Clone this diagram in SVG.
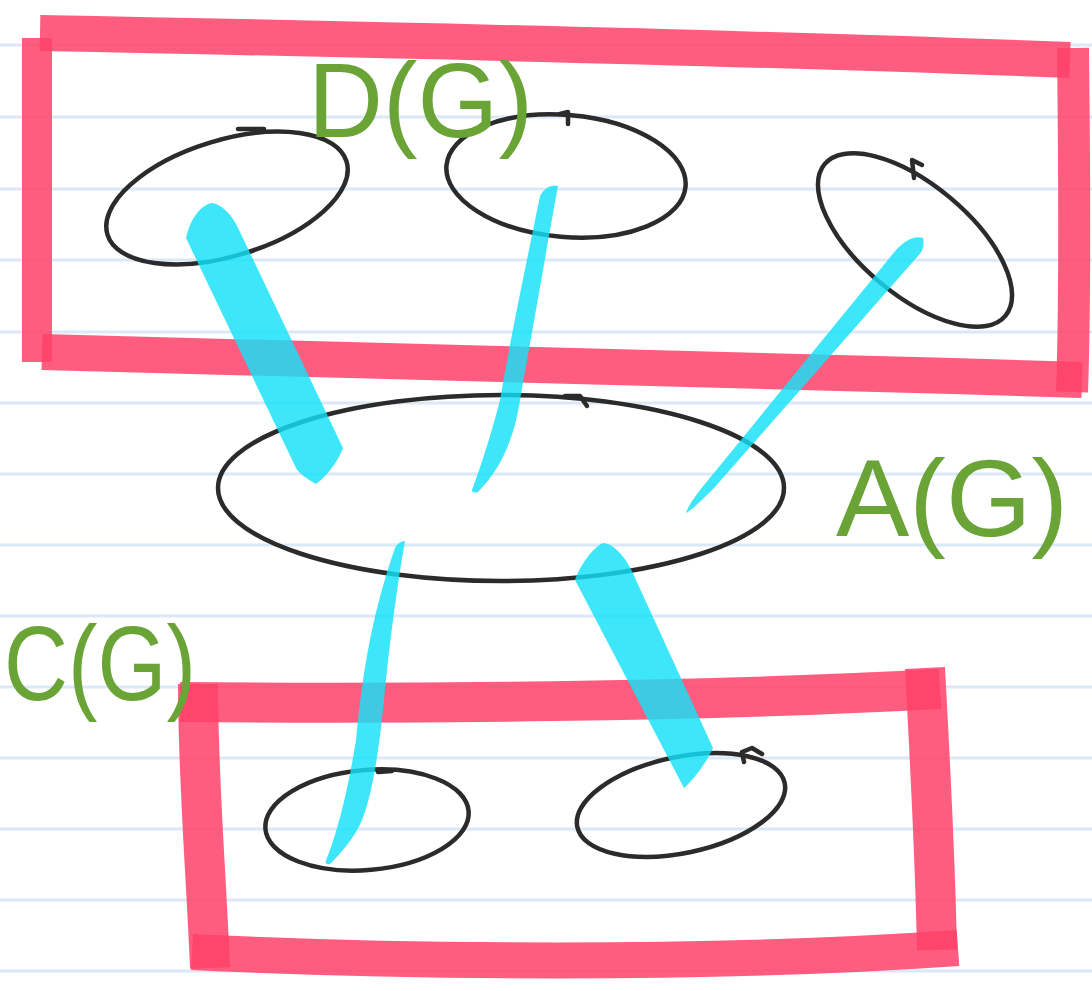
<svg xmlns="http://www.w3.org/2000/svg" width="1092" height="991" viewBox="0 0 1092 991">
<style>
.rule{stroke:#dce7f7;stroke-width:3}
.box{fill:none;stroke:#ff4169;stroke-opacity:0.85;stroke-linecap:butt}
.set{fill:none;stroke:#2b2b2b;stroke-width:4.5;stroke-linecap:round;stroke-linejoin:round}
.link{fill:#12e2f8;fill-opacity:0.82}
.lbl{fill:#6aa436;font-family:"Liberation Sans",Arial,sans-serif}
</style>
<rect x="0" y="0" width="1092" height="991" fill="#ffffff"/>
<g id="paper">
<line class="rule" x1="0" y1="45" x2="1092" y2="45"/>
<line class="rule" x1="0" y1="117" x2="1092" y2="117"/>
<line class="rule" x1="0" y1="189" x2="1092" y2="189"/>
<line class="rule" x1="0" y1="260" x2="1092" y2="260"/>
<line class="rule" x1="0" y1="332" x2="1092" y2="332"/>
<line class="rule" x1="0" y1="403" x2="1092" y2="403"/>
<line class="rule" x1="0" y1="474" x2="1092" y2="474"/>
<line class="rule" x1="0" y1="545" x2="1092" y2="545"/>
<line class="rule" x1="0" y1="616" x2="1092" y2="616"/>
<line class="rule" x1="0" y1="687" x2="1092" y2="687"/>
<line class="rule" x1="0" y1="758" x2="1092" y2="758"/>
<line class="rule" x1="0" y1="829" x2="1092" y2="829"/>
<line class="rule" x1="0" y1="900" x2="1092" y2="900"/>
<line class="rule" x1="0" y1="971" x2="1092" y2="971"/>
</g>
<g id="group-D">
<path class="box" stroke-width="36" d="M 40 33 C 300 38 700 46 1070 60"/>
<path class="box" stroke-width="32" d="M 1073 48 C 1074 150 1076 280 1072 392"/>
<path class="box" stroke-width="36" d="M 42 352 C 300 358 700 368 1082 380"/>
<path class="box" stroke-width="30" d="M 37 38 L 37 362"/>
</g>
<g id="group-C">
<path class="box" stroke-width="40" d="M 180 702 C 400 704 700 702 940 689"/>
<path class="box" stroke-width="40" d="M 925 668 C 930 760 935 850 937 950"/>
<path class="box" stroke-width="36" d="M 192 952 C 400 962 700 966 958 948"/>
<path class="box" stroke-width="40" d="M 198 684 C 198 780 206 870 210 968"/>
</g>
<g id="node-d1">
<ellipse class="set" cx="227" cy="198" rx="125" ry="58" transform="rotate(-17 227 198)"/>
<path class="set" d="M 238 129 L 264 129"/>
</g>
<g id="node-d2">
<ellipse class="set" cx="566" cy="176" rx="120" ry="61" transform="rotate(5 566 176)"/>
<path class="set" d="M 560 114 L 568 112 L 568 124"/>
</g>
<g id="node-d3">
<ellipse class="set" cx="915" cy="240" rx="118" ry="55" transform="rotate(40 915 240)"/>
<path class="set" d="M 914 178 L 912 160 L 922 165"/>
</g>
<g id="node-a">
<ellipse class="set" cx="501" cy="488" rx="283" ry="93"/>
<path class="set" d="M 565 396 L 580 396 L 587 406"/>
</g>
<g id="node-c1">
<ellipse class="set" cx="367" cy="820" rx="102" ry="50" transform="rotate(-5 367 820)"/>
<path class="set" d="M 378 772 L 392 771"/>
</g>
<g id="node-c2">
<ellipse class="set" cx="681" cy="805" rx="106" ry="48" transform="rotate(-12 681 805)"/>
<path class="set" d="M 744 762 L 742 752 L 752 748 L 762 754"/>
</g>
<g id="connectors">
<path class="link" d="M 186 238 C 190 220 200 205 212 203 C 225 205 235 220 240 232 L 343 448 C 338 462 325 478 316 484 C 305 478 298 472 296 468 Z"/>
<path class="link" d="M 540 196 C 544 188 552 184 558 186 C 548 240 538 300 520 400 C 514 440 500 470 478 492 C 475 493 472 493 472 490 C 485 455 495 420 500 400 C 512 330 527 260 540 196 Z"/>
<path class="link" d="M 896 250 C 905 240 915 235 923 238 C 925 246 922 252 918 256 L 714 488 C 702 500 692 510 686 513 C 688 506 694 498 700 490 Z"/>
<path class="link" d="M 395 548 C 397 544 401 541 405 541 C 400 570 392 620 384 700 C 378 760 370 810 356 832 C 346 848 336 858 330 864 C 325 865 325 862 327 858 C 338 830 348 790 356 740 C 362 680 370 620 395 548 Z"/>
<path class="link" d="M 575 580 C 580 566 592 548 603 543 C 612 543 626 555 636 580 L 713 748 C 705 765 693 780 684 788 Z"/>
</g>
<g id="labels">
<text class="lbl" x="308" y="137" font-size="106" textLength="225" lengthAdjust="spacingAndGlyphs">D(G)</text>
<text class="lbl" x="836" y="536" font-size="110" textLength="232" lengthAdjust="spacingAndGlyphs">A(G)</text>
<text class="lbl" x="4" y="700" font-size="106" textLength="192" lengthAdjust="spacingAndGlyphs">C(G)</text>
</g>
</svg>
